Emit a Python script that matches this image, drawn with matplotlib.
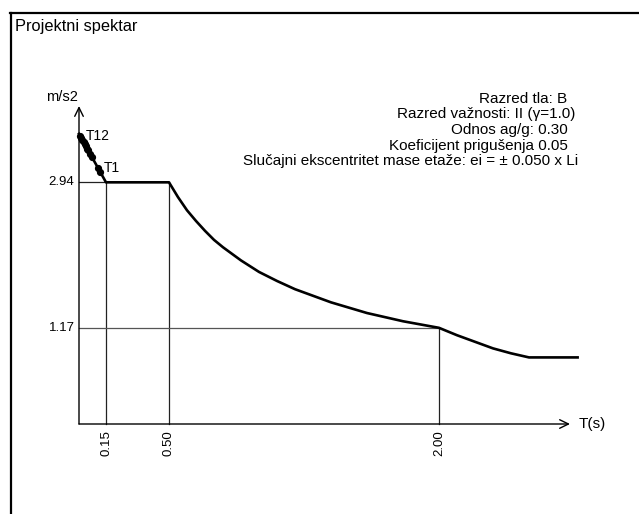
import matplotlib
matplotlib.use("Agg")
import matplotlib.pyplot as plt
from matplotlib.lines import Line2D

plt.rcParams['font.family'] = ['Liberation Sans', 'DejaVu Sans']

# Design spectrum (T in s, Sd in m/s2)
spec_T = [0.0, 0.15, 0.50, 0.55, 0.60, 0.65, 0.70, 0.75, 0.80, 0.90, 1.00, 1.10, 1.20,
          1.40, 1.60, 1.80, 2.00, 2.10, 2.20, 2.30, 2.40, 2.50, 2.77]
spec_Sd = [3.53, 2.94, 2.94, 2.76, 2.60, 2.47, 2.35, 2.24, 2.15, 1.99, 1.85, 1.74, 1.64,
           1.48, 1.35, 1.25, 1.17, 1.08, 1.00, 0.92, 0.86, 0.81, 0.81]

# Mode periods T1..T12 and their spectral values
mode_T = [0.119, 0.103, 0.072, 0.060, 0.052, 0.045, 0.038, 0.031, 0.025, 0.018, 0.012, 0.007]
mode_Sd = [3.06, 3.12, 3.25, 3.29, 3.33, 3.35, 3.38, 3.41, 3.43, 3.46, 3.48, 3.50]

# Reference values
TB, TC, TD = 0.15, 0.50, 2.00
S_plateau, S_TD = 2.94, 1.17
x_ticks = [0.15, 0.50, 2.00]
x_tick_labels = ["0.15", "0.50", "2.00"]
y_ticks = [2.94, 1.17]
y_tick_labels = ["2.94", "1.17"]

info_lines = [
    "Razred tla: B",
    "Razred važnosti: II (γ=1.0)",
    "Odnos ag/g: 0.30",
    "Koeficijent prigušenja 0.05",
    "Slučajni ekscentritet mase etaže: ei = ± 0.050 x Li",
]
# right edge (px) of each info line
info_right = [567, 575, 568, 568, 578]

W, H = 639, 514
fig = plt.figure(figsize=(W / 100, H / 100), dpi=100)
fig.patch.set_facecolor('white')

# axes: origin at px (79,424), x arrow tip at 570, y arrow tip at 106
x0, y0, x1, y1 = 79, 424, 570, 106
ax = fig.add_axes([x0 / W, 1 - y0 / H, (x1 - x0) / W, (y0 - y1) / H])
xmax = (x1 - x0) / 180.0
ymax = (y0 - y1) / 82.2
ax.set_xlim(0, xmax)
ax.set_ylim(0, ymax)
ax.axis('off')

# frame (top and left visible)
fig.add_artist(Line2D([10 / W, 638 / W], [1 - 13 / H, 1 - 13 / H], transform=fig.transFigure,
                      color='black', lw=1.6))
fig.add_artist(Line2D([10.5 / W, 10.5 / W], [1 - 13 / H, 0.0], transform=fig.transFigure,
                      color='black', lw=1.6))
fig.text(15 / W, 1 - 31.5 / H, "Projektni spektar", fontsize=11.8, va='baseline', ha='left')

# axes with arrows
arrow_kw = dict(arrowstyle='->,head_length=0.45,head_width=0.22', lw=1.0, color='black',
                shrinkA=0, shrinkB=0, mutation_scale=14)
ax.annotate('', xy=(xmax, 0), xytext=(0, 0), arrowprops=arrow_kw, annotation_clip=False)
ax.annotate('', xy=(0, ymax), xytext=(0, 0), arrowprops=arrow_kw, annotation_clip=False)

# reference lines
ref_kw = dict(color='#222222', lw=0.9, clip_on=False)
ax.plot([0, TB], [S_plateau, S_plateau], **ref_kw)
ax.plot([TB, TB], [0, S_plateau], **ref_kw)
ax.plot([TC, TC], [0, S_plateau], **ref_kw)
ax.plot([0, TD], [S_TD, S_TD], color='#555555', lw=0.9, clip_on=False)
ax.plot([TD, TD], [0, S_TD], **ref_kw)

# spectrum
ax.plot(spec_T, spec_Sd, color='black', lw=1.9, clip_on=False, solid_joinstyle='round')

# mode points
ax.plot(mode_T, mode_Sd, 'o', color='black', ms=4.2, clip_on=False)
ax.annotate("T12", xy=(mode_T[-1], mode_Sd[-1]), xytext=(5, 0), textcoords='offset pixels',
            fontsize=10, va='center', ha='left')
ax.annotate("T1", xy=(mode_T[0], mode_Sd[0]), xytext=(3, 4), textcoords='offset pixels',
            fontsize=10, va='center', ha='left')

# tick labels
for t, lab in zip(x_ticks, x_tick_labels):
    ax.text(t, -0.08, lab, rotation=90, ha='center', va='top', fontsize=9.5)
for v, lab in zip(y_ticks, y_tick_labels):
    ax.text(-0.025, v, lab, ha='right', va='center', fontsize=9.5)

# axis labels
fig.text(78 / W, 1 - 101 / H, "m/s2", ha='right', va='baseline', fontsize=10.5)
ax.text(xmax + 0.05, 0, "T(s)", ha='left', va='center', fontsize=11)

# info text, one line each, right aligned
for i, (line, xr) in enumerate(zip(info_lines, info_right)):
    fig.text(xr / W, 1 - (102.7 + 15.6 * i) / H, line, ha='right', va='baseline', fontsize=11)

fig.savefig("out.png", dpi=100, facecolor='white')
